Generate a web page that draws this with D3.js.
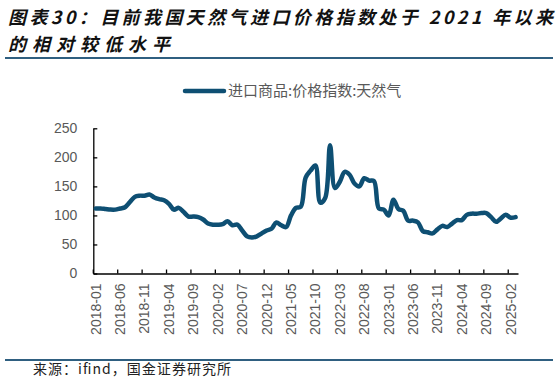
<!DOCTYPE html>
<html>
<head>
<meta charset="utf-8">
<script src="https://cdn.jsdelivr.net/npm/d3@7"></script>
<style>
  body { margin: 0; background: #fff; }
  svg { display: block; }
</style>
</head>
<body>
<svg id="chart" width="559" height="382"></svg>
<script>
// monthly categories 2018-01 .. 2025-03
const months = d3.timeMonths(new Date(2018, 0, 1), new Date(2025, 3, 1)).map(d3.timeFormat('%Y-%m'))

// 进口商品:价格指数:天然气
const gasIndex = [
  112, 112, 111, 110, 110, 112, 114, 123, 132, 134,
  134, 136, 131, 128, 126, 120, 110, 113, 106, 98,
  98, 97, 93, 86, 84, 84, 85, 90, 83, 84,
  74, 64, 62, 64, 69, 74, 77, 88, 83, 80,
  100, 113, 115, 165, 177, 186, 122, 130, 221, 147,
  158, 175, 170, 155, 150, 164, 160, 159, 112, 110,
  100, 127, 111, 108, 91, 91, 88, 73, 71, 69,
  76, 82, 80, 86, 92, 92, 101, 103, 103, 104,
  104, 97, 89, 95, 101, 96, 97
]

const xTickLabels = ['2018-01', '2018-06', '2018-11', '2019-04', '2019-09', '2020-02',
  '2020-07', '2020-12', '2021-05', '2021-10', '2022-03', '2022-08', '2023-01',
  '2023-06', '2023-11', '2024-04', '2024-09', '2025-02']
const yTicks = [0, 50, 100, 150, 200, 250]

const titleLines = ['图表30：目前我国天然气进口价格指数处于 2021 年以来', '的相对较低水平']
const legendLabel = '进口商品:价格指数:天然气'
const sourceText = '来源：ifind，国金证券研究所'

const lineColor = '#0e4f73'
const ruleColor = '#2f5f80'
const grey = '#595959'

const svg = d3.select('#chart')

// title
const titleFont = 'italic bold 18px "Noto Sans CJK SC"'
svg.append('text')
  .attr('x', 8).attr('y', 24)
  .attr('textLength', 545).attr('lengthAdjust', 'spacing')
  .style('font', titleFont)
  .attr('fill', '#111')
  .text(titleLines[0])
svg.append('text')
  .attr('x', 8).attr('y', 51)
  .attr('textLength', 162).attr('lengthAdjust', 'spacing')
  .style('font', titleFont)
  .attr('fill', '#111')
  .text(titleLines[1])

svg.append('line')
  .attr('x1', 5).attr('x2', 553).attr('y1', 58).attr('y2', 58)
  .attr('stroke', ruleColor).attr('stroke-width', 2)
svg.append('line')
  .attr('x1', 5).attr('x2', 553).attr('y1', 360).attr('y2', 360)
  .attr('stroke', ruleColor).attr('stroke-width', 2)

svg.append('text')
  .attr('x', 33).attr('y', 374)
  .attr('textLength', 198).attr('lengthAdjust', 'spacing')
  .style('font', '14px "Noto Sans CJK SC"')
  .attr('fill', '#222')
  .text(sourceText)

// legend
svg.append('line')
  .attr('x1', 185).attr('x2', 224).attr('y1', 91).attr('y2', 91)
  .attr('stroke', lineColor).attr('stroke-width', 4.5).attr('stroke-linecap', 'round')
svg.append('text')
  .attr('x', 228).attr('y', 91).attr('dy', '0.35em')
  .style('font', '15px "Noto Sans CJK SC"')
  .attr('fill', grey)
  .text(legendLabel)

// scales
const x = d3.scaleBand().domain(months).range([93.3, 518]).padding(0)
const y = d3.scaleLinear().domain([0, 250]).range([273.5, 128.3])

const axisFont = '14px "Liberation Sans", Arial, sans-serif'

// y axis, ticks pointing inward
const yAxis = svg.append('g')
  .attr('transform', `translate(${x.range()[0]},0)`)
  .call(d3.axisLeft(y).tickValues(yTicks).tickSizeInner(-4).tickSizeOuter(0).tickPadding(16))
yAxis.select('.domain').attr('stroke', '#000').attr('stroke-width', 1.3)
yAxis.selectAll('.tick line').attr('stroke', '#000').attr('stroke-width', 1.3)
yAxis.selectAll('.tick text').style('font', axisFont).attr('fill', grey)

// x axis: labels at category centres, tick marks at category boundaries
const xAxis = svg.append('g')
  .attr('transform', `translate(0,${y(0)})`)
  .call(d3.axisBottom(x).tickValues(xTickLabels).tickSize(0).tickPadding(0))
xAxis.select('.domain').attr('stroke', '#000').attr('stroke-width', 1.3)
xAxis.selectAll('.tick text')
  .style('font', axisFont).attr('fill', grey)
  .attr('text-anchor', 'end')
  .attr('transform', 'translate(0,10) rotate(-90)')
  .attr('x', 0).attr('y', 0).attr('dy', '0.35em')

svg.append('g').selectAll('line')
  .data(xTickLabels)
  .join('line')
  .attr('x1', d => x(d)).attr('x2', d => x(d))
  .attr('y1', y(0)).attr('y2', y(0) - 4)
  .attr('stroke', '#000').attr('stroke-width', 1.3)

// series
const line = d3.line()
  .x((d, i) => x(months[i]) + x.bandwidth() / 2)
  .y(d => y(d))
  .curve(d3.curveCatmullRom.alpha(0.5))

svg.append('path')
  .datum(gasIndex)
  .attr('d', line)
  .attr('fill', 'none')
  .attr('stroke', lineColor)
  .attr('stroke-width', 4.5)
  .attr('stroke-linejoin', 'round')
  .attr('stroke-linecap', 'round')
</script>
</body>
</html>
